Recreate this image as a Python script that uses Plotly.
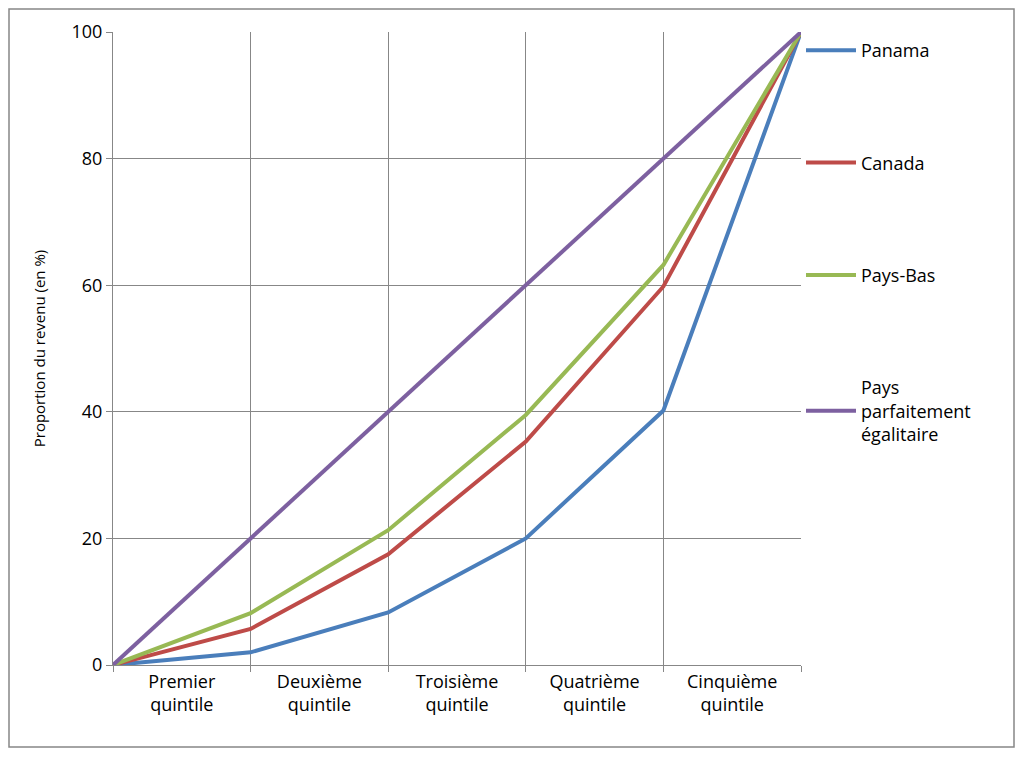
import plotly.graph_objects as go

x_points = [0, 1, 2, 3, 4, 5]
categories = ["Premier<br>quintile", "Deuxième<br>quintile", "Troisième<br>quintile",
              "Quatrième<br>quintile", "Cinquième<br>quintile"]
panama = [0, 2.0, 8.3, 20.0, 40.2, 100]
canada = [0, 5.7, 17.5, 35.3, 59.8, 100]
pays_bas = [0, 8.2, 21.3, 39.5, 63.2, 100]
egalitaire = [0, 20, 40, 60, 80, 100]

series = [
    ("Panama", panama, "#4A7EBB"),
    ("Canada", canada, "#BE4B48"),
    ("Pays-Bas", pays_bas, "#98B954"),
    ("Pays<br>parfaitement<br>égalitaire", egalitaire, "#7D60A0"),
]

fig = go.Figure()
for i, (name, vals, color) in enumerate(series):
    fig.add_trace(go.Scatter(x=x_points, y=vals, mode="lines", name=name,
                             legendgroup=str(i), line=dict(color=color, width=4)))

# page body has an 8px margin, so the figure is shrunk to fit the window
W, H = 1008, 741
ml, mr, mt, mb = 105, 215, 24, 84
pw, ph = W - ml - mr, H - mt - mb

fig.update_layout(
    width=W, height=H,
    margin=dict(l=ml, r=mr, t=mt, b=mb),
    paper_bgcolor="white", plot_bgcolor="white",
    font=dict(family="Open Sans, Liberation Sans, sans-serif", size=18, color="black"),
    showlegend=True,
    legend=dict(x=1.0, xanchor="left", y=1.0, yanchor="top",
                tracegroupgap=86, font=dict(size=18), itemwidth=50,
                bgcolor="rgba(0,0,0,0)"),
    xaxis=dict(range=[0, 5], tickvals=[0.5, 1.5, 2.5, 3.5, 4.5], ticktext=categories,
               showgrid=False, zeroline=False, showline=True, linecolor="#878787",
               ticks="",
               minor=dict(tick0=0, dtick=1, showgrid=True, gridcolor="#878787",
                          ticks="outside", ticklen=6, tickcolor="#878787")),
    yaxis=dict(range=[0, 100], dtick=20, showgrid=True, gridcolor="#878787",
               zeroline=False, showline=True, linecolor="#878787", ticks="outside",
               ticklen=6, tickcolor="#878787",
               title=dict(text="Proportion du revenu (en %)", font=dict(size=15), standoff=22)),
    shapes=[dict(type="rect", xref="paper", yref="paper",
                 x0=(1 - ml) / pw, x1=(W - 2 - ml) / pw,
                 y0=-(mb - 2) / ph, y1=(ph + mt - 1) / ph,
                 line=dict(color="#878787", width=1.5))],
)

fig.write_html("out.html")
